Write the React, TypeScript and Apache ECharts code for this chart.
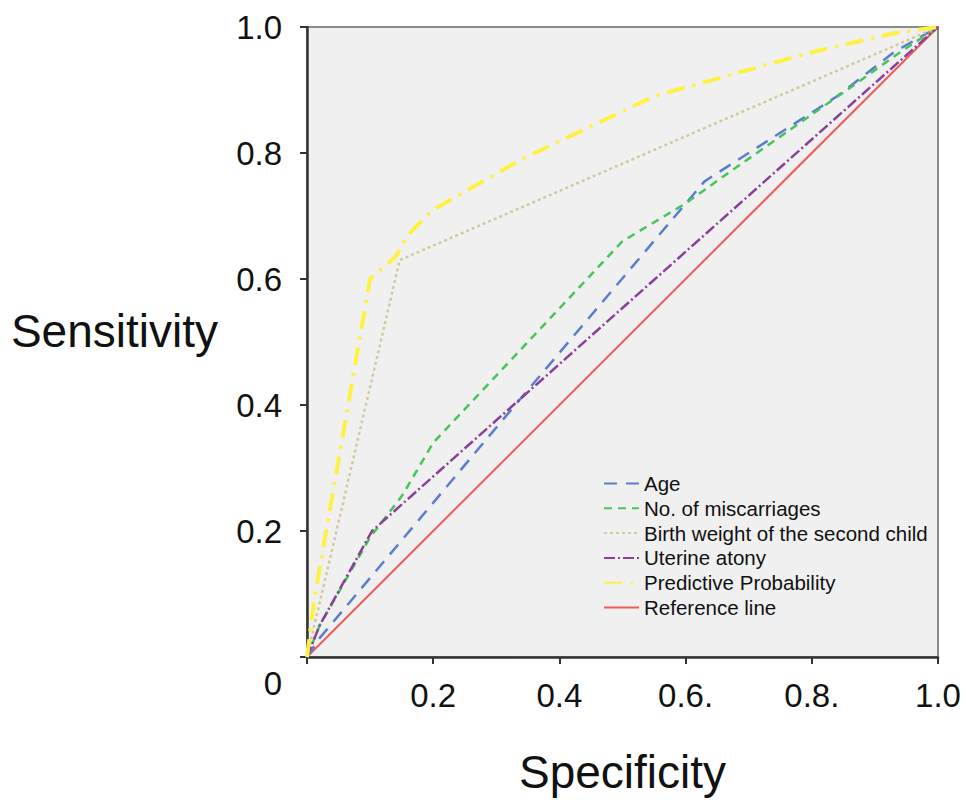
import React, { useEffect, useRef } from "react";
import * as echarts from "echarts";

const seriesNames = [
  "Age",
  "No. of miscarriages",
  "Birth weight of the second child",
  "Uterine atony",
  "Predictive Probability",
  "Reference line",
];

const ageX = [0, 0.02, 0.33, 0.63, 0.7, 0.77, 0.84, 0.93, 1];
const ageY = [0, 0.03, 0.4, 0.755, 0.8, 0.845, 0.89, 0.96, 1];

const miscX = [0, 0.02, 0.1, 0.15, 0.2, 0.5, 0.6, 0.67, 0.77, 0.87, 0.94, 1];
const miscY = [0, 0.05, 0.19, 0.255, 0.34, 0.66, 0.72, 0.77, 0.84, 0.91, 0.96, 1];

const birthX = [0, 0.147, 1];
const birthY = [0, 0.63, 1];

const atonyX = [0, 0.02, 0.103, 1];
const atonyY = [0, 0.05, 0.2, 1];

const predX = [0, 0.005, 0.013, 0.1, 0.14, 0.16, 0.2, 0.34, 0.55, 0.8, 0.93, 1];
const predY = [0, 0.04, 0.1, 0.6, 0.635, 0.67, 0.71, 0.79, 0.89, 0.96, 0.99, 1];

const refX = [0, 1];
const refY = [0, 1];

const xTickLabels = ["", "0.2", "0.4", "0.6.", "0.8.", "1.0"];
const yTickLabels = ["", "0.2", "0.4", "0.6", "0.8", "1.0"];
const originLabel = "0";

const zip = (xs: number[], ys: number[]) => xs.map((x, i) => [x, ys[i]]);

export default function App() {
  const ref = useRef<HTMLDivElement>(null);
  useEffect(() => {
    if (!ref.current) return;
    const chart = echarts.init(ref.current, null, { renderer: "svg" });
    const font = "'Liberation Sans', Arial, sans-serif";
    const styles = [
      { color: "#5b7dd0", width: 2.5, type: [13, 9] },
      { color: "#45c55a", width: 2.5, type: [8, 6] },
      { color: "#d3c99e", width: 2.5, type: [3, 3] },
      { color: "#8a3f98", width: 2.5, type: [11, 3, 2, 3] },
      { color: "#fff044", width: 4, type: [18, 8, 3, 8] },
      { color: "#f25a5a", width: 2, type: "solid" },
    ];
    const datas = [
      zip(ageX, ageY),
      zip(miscX, miscY),
      zip(birthX, birthY),
      zip(atonyX, atonyY),
      zip(predX, predY),
      zip(refX, refY),
    ];
    const series = seriesNames.map((name, i) => ({
      name,
      type: "line",
      data: datas[i],
      symbol: "none",
      showSymbol: false,
      z: i === 5 ? 1 : 2 + i,
      lineStyle: {
        color: styles[i].color,
        width: styles[i].width,
        type: styles[i].type as any,
        cap: "butt",
      },
      itemStyle: { color: styles[i].color },
    }));
    chart.setOption({
      animation: false,
      backgroundColor: "#ffffff",
      textStyle: { fontFamily: font },
      grid: {
        left: 307,
        top: 27,
        width: 631,
        height: 630,
        show: true,
        backgroundColor: "#f0f0f0",
        borderColor: "#8a8a8a",
        borderWidth: 2,
      },
      legend: {
        orient: "vertical",
        left: 598,
        top: 468,
        itemWidth: 35,
        itemHeight: 14,
        itemGap: 3.8,
        data: seriesNames,
        itemStyle: { color: "transparent", borderWidth: 0, opacity: 0 },
        textStyle: {
          fontSize: 20.5,
          color: "#111",
          fontFamily: font,
          padding: [0, 0, 0, 0],
        },
      },
      xAxis: {
        type: "value",
        min: 0,
        max: 1,
        interval: 0.2,
        name: "Specificity",
        nameLocation: "middle",
        nameGap: 92,
        nameTextStyle: { fontSize: 46, color: "#111", fontFamily: font },
        axisLine: { show: true, lineStyle: { color: "#333", width: 2.5 } },
        axisTick: { show: true, length: 7, lineStyle: { color: "#333", width: 2 } },
        axisLabel: {
          fontSize: 33,
          color: "#111",
          margin: 22,
          fontFamily: font,
          formatter: (v: number) => xTickLabels[Math.round(v / 0.2)] ?? "",
        },
        splitLine: { show: false },
      },
      yAxis: {
        type: "value",
        min: 0,
        max: 1,
        interval: 0.2,
        name: "Sensitivity",
        nameLocation: "middle",
        nameRotate: 0,
        nameGap: 89,
        nameTextStyle: {
          fontSize: 46,
          color: "#111",
          fontFamily: font,
          verticalAlign: "bottom",
          lineHeight: 23,
        },
        axisLine: { show: true, lineStyle: { color: "#333", width: 2.5 } },
        axisTick: { show: true, length: 7, lineStyle: { color: "#333", width: 2 } },
        axisLabel: {
          fontSize: 33,
          color: "#111",
          margin: 25,
          fontFamily: font,
          formatter: (v: number) => yTickLabels[Math.round(v / 0.2)] ?? "",
        },
        splitLine: { show: false },
      },
      graphic: [
        {
          type: "text",
          x: 282,
          y: 683,
          style: {
            text: originLabel,
            fontSize: 33,
            fontFamily: font,
            fill: "#111",
            align: "right",
            verticalAlign: "middle",
          },
        },
      ],
      series,
    });
    return () => chart.dispose();
  }, []);
  return (
    <div
      ref={ref}
      style={{ position: "fixed", left: 0, top: 0, width: 966, height: 800 }}
    />
  );
}
